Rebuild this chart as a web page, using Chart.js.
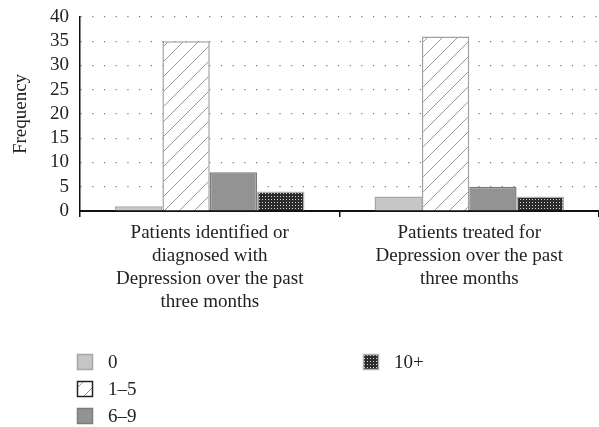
<!DOCTYPE html>
<html>
<head>
<meta charset="utf-8">
<script src="https://cdn.jsdelivr.net/npm/chart.js@4/dist/chart.umd.min.js"></script>
<style>
  html, body { margin: 0; padding: 0; background: #fff; }
  #wrap { width: 599px; height: 427px; position: relative; }
</style>
</head>
<body>
<div id="wrap"><canvas id="chart"></canvas></div>
<script>
// data
const categories = [
  ['Patients identified or', 'diagnosed with', 'Depression over the past', 'three months'],
  ['Patients treated for', 'Depression over the past', 'three months']
];
const seriesNames = ['0', '1\u20135', '6\u20139', '10+'];
const zeroVisits = [1, 3];
const oneToFive = [35, 36];
const sixToNine = [8, 5];
const tenPlus = [4, 3];
const yTicks = [0, 5, 10, 15, 20, 25, 30, 35, 40];

const FONT = '"Liberation Serif", "DejaVu Serif", serif';

// fill patterns
function hatchPattern() {
  const c = document.createElement('canvas');
  c.width = 15; c.height = 15;
  const g = c.getContext('2d');
  g.fillStyle = '#fff';
  g.fillRect(0, 0, 15, 15);
  g.strokeStyle = '#9a9a9a';
  g.lineWidth = 1;
  g.beginPath();
  g.moveTo(-1, 16); g.lineTo(16, -1);
  g.moveTo(-16, 16); g.lineTo(1, -1);
  g.moveTo(14, 16); g.lineTo(31, -1);
  g.stroke();
  return g.createPattern(c, 'repeat');
}

function dotPattern() {
  const c = document.createElement('canvas');
  c.width = 3; c.height = 3;
  const g = c.getContext('2d');
  g.fillStyle = '#2b2b2b';
  g.fillRect(0, 0, 3, 3);
  g.fillStyle = '#d8d8d8';
  g.fillRect(1, 1, 1, 1);
  return g.createPattern(c, 'repeat');
}

const styles = [
  { bg: '#c6c6c6', border: '#a6a6a6' },
  { bg: hatchPattern(), border: '#a0a0a0' },
  { bg: '#939393', border: '#7c7c7c' },
  { bg: dotPattern(), border: '#b0b0b0' }
];

const values = [zeroVisits, oneToFive, sixToNine, tenPlus];

// legend laid out in columns, like the original
const legendPlugin = {
  id: 'colLegend',
  afterDraw(chart) {
    const ctx = chart.ctx;
    const spots = [
      { x: 77, y: 354 },
      { x: 77, y: 381 },
      { x: 77, y: 408 },
      { x: 363, y: 354 }
    ];
    chart.data.datasets.forEach((ds, i) => {
      const p = spots[i];
      ctx.save();
      ctx.fillStyle = ds.backgroundColor;
      ctx.fillRect(p.x, p.y, 16, 16);
      ctx.strokeStyle = i === 1 ? '#222' : ds.borderColor;
      ctx.lineWidth = 1.5;
      ctx.strokeRect(p.x + 0.5, p.y + 0.5, 15, 15);
      ctx.fillStyle = '#222';
      ctx.font = '19px ' + FONT;
      ctx.textBaseline = 'middle';
      ctx.fillText(ds.label, p.x + 31, p.y + 9);
      ctx.restore();
    });
  }
};

new Chart(document.getElementById('chart'), {
  type: 'bar',
  data: {
    labels: categories,
    datasets: seriesNames.map((name, i) => ({
      label: name,
      data: values[i],
      backgroundColor: styles[i].bg,
      borderColor: styles[i].border,
      borderWidth: 1.5,
      barPercentage: 1.0,
      categoryPercentage: 0.73
    }))
  },
  options: {
    responsive: true,
    maintainAspectRatio: false,
    animation: false,
    layout: { padding: { top: 0, right: 0, bottom: 104, left: 0 } },
    plugins: {
      legend: { display: false },
      tooltip: { enabled: false }
    },
    scales: {
      x: {
        offset: true,
        grid: {
          offset: true,
          drawOnChartArea: false,
          drawTicks: true,
          tickLength: 6,
          color: '#111',
          lineWidth: 1.5
        },
        border: { display: true, color: '#111', width: 2 },
        ticks: {
          color: '#222',
          font: { family: FONT, size: 19, lineHeight: 1.22 },
          padding: 4,
          maxRotation: 0,
          autoSkip: false
        },
        afterFit(scale) { scale.height = 112; }
      },
      y: {
        min: 0,
        max: 40,
        afterBuildTicks(scale) { scale.ticks = yTicks.map(v => ({ value: v })); },
        grid: {
          drawTicks: false,
          color: ctx => (ctx.tick && ctx.tick.value === 0 ? 'rgba(0,0,0,0)' : '#777'),
          lineWidth: 1.2
        },
        border: { display: true, color: '#111', width: 1.5, dash: [1.2, 10.5] },
        ticks: {
          color: '#222',
          font: { family: FONT, size: 19 },
          padding: 11,
          autoSkip: false
        },
        title: {
          display: true,
          text: 'Frequency',
          color: '#222',
          font: { family: FONT, size: 19 },
          padding: { top: 10, bottom: 0 }
        },
        afterFit(scale) {
          scale.width = 80;
          scale.paddingTop = 17;
        }
      }
    }
  },
  plugins: [legendPlugin]
});
</script>
</body>
</html>
